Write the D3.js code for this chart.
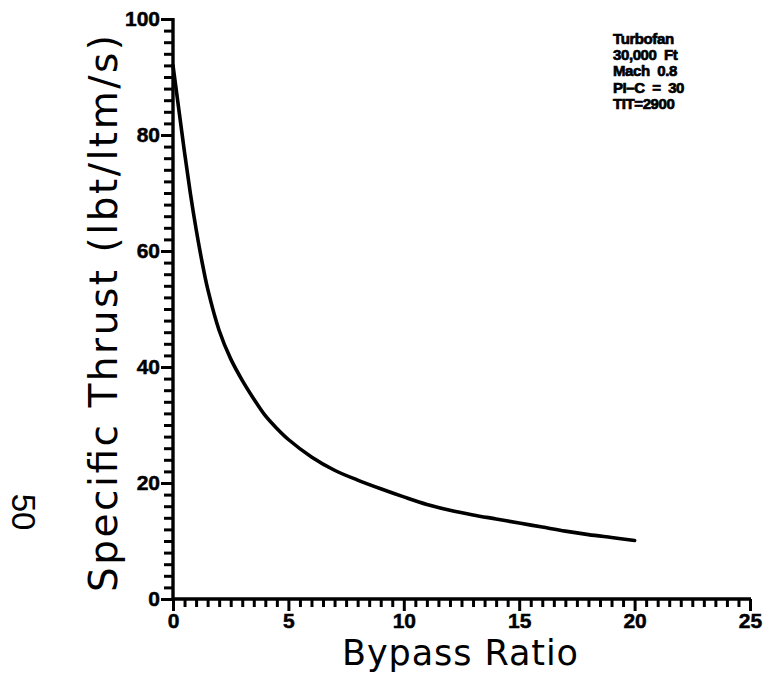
<!DOCTYPE html>
<html>
<head>
<meta charset="utf-8">
<script src="https://cdn.jsdelivr.net/npm/d3@7"></script>
<style>
  html, body { margin: 0; padding: 0; background: #fff; }
  svg { display: block; }
</style>
</head>
<body>
<svg id="chart" width="770" height="678"></svg>
<script>
// Turbofan specific thrust vs. bypass ratio (30,000 ft, Mach 0.8, PI-C = 30, TIT = 2900)
const bypassRatio = [0, 0.25, 0.5, 0.75, 1, 1.25, 1.5, 2, 2.5, 3, 3.5, 4, 4.5, 5, 6, 7, 8, 9, 10,
                     11, 12, 13, 14, 15, 16, 17, 18, 19, 20];
const specificThrust = [92, 84.5, 77, 70, 63.8, 58.3, 53.5, 46.3, 41.4, 37.7, 34.5, 31.6, 29.4, 27.5, 24.5,
                        22.2, 20.5, 19.0, 17.6, 16.3, 15.3, 14.5, 13.8, 13.1, 12.4, 11.7, 11.1, 10.6, 10.1];

const xTickLabels = [0, 5, 10, 15, 20, 25];
const yTickLabels = [0, 20, 40, 60, 80, 100];
const caseNotes = ["Turbofan", "30,000  Ft", "Mach  0.8", "PI\u2013C  =  30", "TIT=2900"];

const xTitle = "Bypass  Ratio";
const yTitle = "Specific  Thrust  (lbt/ltm/s)";
const pageNumber = "50";

const svg = d3.select("#chart");

const x = d3.scaleLinear().domain([0, 25]).range([173, 750]);
const y = d3.scaleLinear().domain([0, 100]).range([599, 19]);

const ink = "#000";
const isMajor = (list, d) => list.some(v => Math.abs(v - d) < 1e-6);
const labelFont = "'Liberation Sans', Arial, sans-serif";

// ---- y axis: minor ticks every 2, longer at labelled values
const gy = svg.append("g")
  .attr("transform", `translate(${x(0)},0)`)
  .call(d3.axisLeft(y)
    .tickValues(d3.range(0, 51).map(i => i * 2))
    .tickSize(9)
    .tickPadding(5)
    .tickFormat(d => isMajor(yTickLabels, d) ? String(d) : ""));
gy.select(".domain")
  .attr("stroke", ink).attr("stroke-width", 3.4)
  .attr("d", `M0,${y(0) + 1}V${y(100) - 1}`);
gy.selectAll(".tick line")
  .attr("stroke", ink).attr("stroke-width", 3)
  .attr("x2", d => isMajor(yTickLabels, d) ? -12 : -9);
gy.selectAll(".tick text")
  .attr("x", -13)
  .attr("fill", ink).attr("stroke", ink).attr("stroke-width", 0.5)
  .style("font-family", labelFont).style("font-weight", "bold").style("font-size", "21px");

// ---- x axis: minor ticks every 0.5, longer at labelled values
const gx = svg.append("g")
  .attr("transform", `translate(0,${y(0)})`)
  .call(d3.axisBottom(x)
    .tickValues(d3.range(0, 51).map(i => i * 0.5))
    .tickSize(8)
    .tickPadding(4)
    .tickFormat(d => isMajor(xTickLabels, d) ? String(d) : ""));
gx.select(".domain")
  .attr("stroke", ink).attr("stroke-width", 3.4)
  .attr("d", `M${x(0) - 1},0H${x(25) + 1}`);
gx.selectAll(".tick line")
  .attr("stroke", ink).attr("stroke-width", 3)
  .attr("y2", d => isMajor(xTickLabels, d) ? 12 : 8);
gx.selectAll(".tick text")
  .attr("y", 14)
  .attr("fill", ink).attr("stroke", ink).attr("stroke-width", 0.5)
  .style("font-family", labelFont).style("font-weight", "bold").style("font-size", "21px");

// ---- axis titles
svg.append("text")
  .attr("x", 342).attr("y", 665)
  .attr("textLength", 236).attr("lengthAdjust", "spacing")
  .style("font-family", "'DejaVu Sans', sans-serif")
  .style("font-size", "35px")
  .attr("fill", ink)
  .text(xTitle);

svg.append("text")
  .attr("transform", "translate(117,592) rotate(-90)")
  .attr("textLength", 557).attr("lengthAdjust", "spacing")
  .style("font-family", "'DejaVu Sans', sans-serif")
  .style("font-size", "39px")
  .attr("fill", ink)
  .text(yTitle);

// ---- the curve
const line = d3.line()
  .x((d, i) => x(bypassRatio[i]))
  .y(d => y(d))
  .curve(d3.curveCatmullRom.alpha(0.5));

svg.append("path")
  .datum(specificThrust)
  .attr("d", line)
  .attr("fill", "none")
  .attr("stroke", ink)
  .attr("stroke-width", 3.6)
  .attr("stroke-linejoin", "round")
  .attr("stroke-linecap", "round");

// ---- case notes, upper right (one text per line)
svg.append("g")
  .selectAll("text")
  .data(caseNotes)
  .join("text")
  .attr("x", 613)
  .attr("y", (d, i) => 44 + i * 16.2)
  .attr("xml:space", "preserve")
  .style("white-space", "pre")
  .style("font-family", labelFont)
  .style("font-weight", "bold")
  .style("font-size", "15px")
  .style("letter-spacing", "-0.4px")
  .attr("fill", ink)
  .attr("stroke", ink).attr("stroke-width", 0.7)
  .text(d => d);

// ---- page number in the margin
svg.append("text")
  .attr("transform", "translate(12,512) rotate(90)")
  .attr("text-anchor", "middle")
  .style("font-family", labelFont)
  .style("font-size", "33px")
  .attr("fill", ink)
  .text(pageNumber);
</script>
</body>
</html>
